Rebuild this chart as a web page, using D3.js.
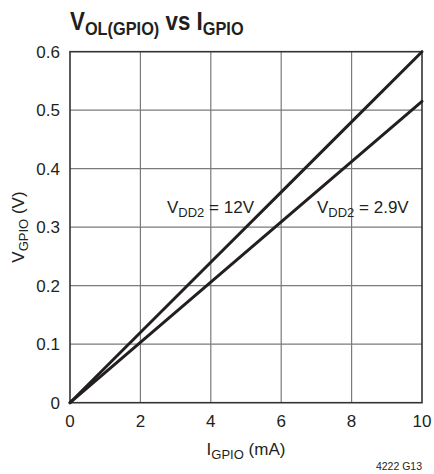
<!DOCTYPE html>
<html><head><meta charset="utf-8">
<script src="https://cdn.jsdelivr.net/npm/d3@7"></script>
<style>
html,body{margin:0;padding:0;background:#fff;}
svg text{font-family:"Liberation Sans Narrow","Arial Narrow","Liberation Sans",sans-serif;fill:#231f20;}
</style></head>
<body><svg id="c" width="434" height="474"></svg>
<script>
const xTicks = [0, 2, 4, 6, 8, 10];
const yTicks = [0, 0.1, 0.2, 0.3, 0.4, 0.5, 0.6];
const yTickLabels = ["0", "0.1", "0.2", "0.3", "0.4", "0.5", "0.6"];
const currentMA = [0, 2, 4, 6, 8, 10];
const v12 = [0, 0.12, 0.24, 0.36, 0.48, 0.6];
const v29 = [0, 0.103, 0.206, 0.309, 0.412, 0.515];

const svg = d3.select("#c");
const x = d3.scaleLinear().domain([0, 10]).range([70, 422]);
const y = d3.scaleLinear().domain([0, 0.6]).range([402.7, 51.7]);

// grid
svg.append("g").selectAll("line").data(xTicks.slice(1, -1)).join("line")
  .attr("x1", d => x(d)).attr("x2", d => x(d)).attr("y1", y(0)).attr("y2", y(0.6))
  .attr("stroke", "#7a7a7a").attr("stroke-width", 1.2);
svg.append("g").selectAll("line").data(yTicks.slice(1, -1)).join("line")
  .attr("x1", x(0)).attr("x2", x(10)).attr("y1", d => y(d)).attr("y2", d => y(d))
  .attr("stroke", "#7a7a7a").attr("stroke-width", 1.2);
// frame
svg.append("rect").attr("x", x(0)).attr("y", y(0.6)).attr("width", x(10) - x(0)).attr("height", y(0) - y(0.6))
  .attr("fill", "none").attr("stroke", "#333").attr("stroke-width", 1.6);

// lines
const line = d3.line().x((d, i) => x(currentMA[i])).y(d => y(d));
[v12, v29].forEach(s => {
  svg.append("path").attr("d", line(s)).attr("fill", "none").attr("stroke", "#231f20")
    .attr("stroke-width", 3).attr("stroke-linecap", "round");
});

// tick labels
svg.append("g").selectAll("text").data(yTicks).join("text")
  .attr("x", 60).attr("y", d => y(d) + 6).attr("text-anchor", "end")
  .attr("font-size", 17).text((d, i) => yTickLabels[i]);
svg.append("g").selectAll("text").data(xTicks).join("text")
  .attr("x", d => x(d)).attr("y", 427).attr("text-anchor", "middle")
  .attr("font-size", 17).text(d => d);

// axis titles
const xt = svg.append("text").attr("x", 246).attr("y", 455).attr("text-anchor", "middle").attr("font-size", 17);
xt.append("tspan").text("I");
xt.append("tspan").attr("font-size", 13).attr("dy", 4).text("GPIO");
xt.append("tspan").attr("dy", -4).text(" (mA)");

const yt = svg.append("text").attr("transform", "translate(24,227) rotate(-90)").attr("text-anchor", "middle").attr("font-size", 17);
yt.append("tspan").text("V");
yt.append("tspan").attr("font-size", 13).attr("dy", 4).text("GPIO");
yt.append("tspan").attr("dy", -4).text(" (V)");

// annotations
function ann(xp, yp, val) {
  const t = svg.append("text").attr("x", xp).attr("y", yp).attr("font-size", 17);
  t.append("tspan").text("V");
  t.append("tspan").attr("font-size", 13).attr("dy", 4).text("DD2");
  t.append("tspan").attr("dy", -4).text(" = " + val);
}
ann(167, 213, "12V");
ann(317, 213, "2.9V");

// title
const tg = svg.append("g").attr("transform", "translate(70,30) scale(0.86,1)");
const tt = tg.append("text").attr("x", 0).attr("y", 0).attr("font-size", 26).attr("font-weight", "bold");
tt.append("tspan").text("V");
tt.append("tspan").attr("font-size", 19).attr("dy", 5).text("OL(GPIO)");
tt.append("tspan").attr("dy", -5).text(" vs I");
tt.append("tspan").attr("font-size", 19).attr("dy", 5).text("GPIO");

svg.append("text").attr("x", 422).attr("y", 470).attr("text-anchor", "end").attr("font-size", 10.5).text("4222 G13");
</script></body></html>
